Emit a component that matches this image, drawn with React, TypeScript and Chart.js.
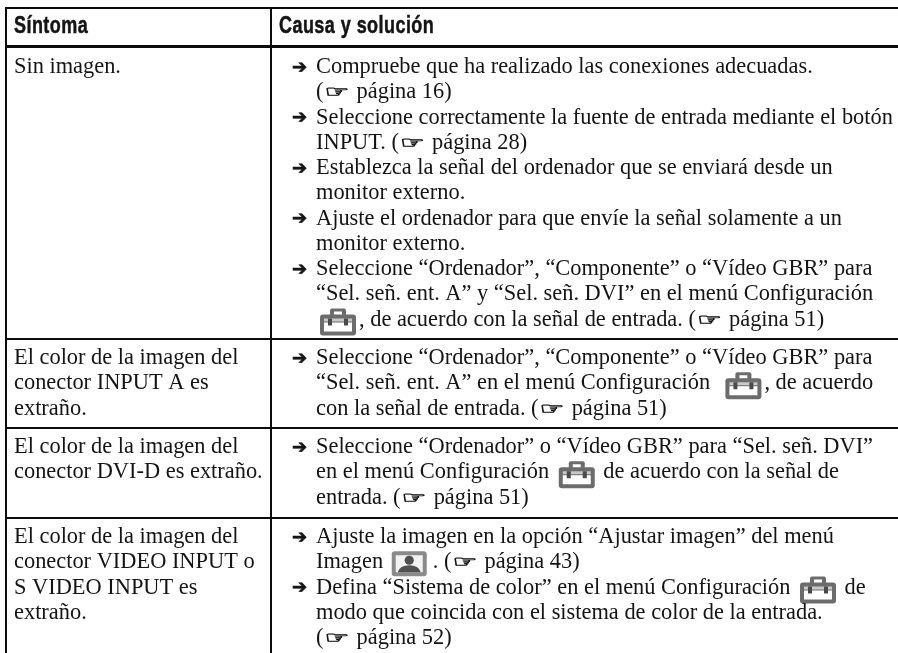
import React, { useEffect, useRef } from "react";
import { Chart, registerables } from "chart.js";

Chart.register(...registerables);

const HEADERS = ["Síntoma", "Causa y solución"];

const SYMPTOMS = [
  ["Sin imagen."],
  ["El color de la imagen del", "conector INPUT A es", "extraño."],
  ["El color de la imagen del", "conector DVI-D es extraño."],
  ["El color de la imagen del", "conector VIDEO INPUT o", "S VIDEO INPUT es", "extraño."],
];

const CAUSES = [
  [
    "➔Compruebe que ha realizado las conexiones adecuadas.",
    "(☞ página 16)",
    "➔Seleccione correctamente la fuente de entrada mediante el botón",
    "INPUT. (☞ página 28)",
    "➔Establezca la señal del ordenador que se enviará desde un",
    "monitor externo.",
    "➔Ajuste el ordenador para que envíe la señal solamente a un",
    "monitor externo.",
    "➔Seleccione “Ordenador”, “Componente” o “Vídeo GBR” para",
    "“Sel. señ. ent. A” y “Sel. señ. DVI” en el menú Configuración",
    "▣, de acuerdo con la señal de entrada. (☞ página 51)",
  ],
  [
    "➔Seleccione “Ordenador”, “Componente” o “Vídeo GBR” para",
    "“Sel. señ. ent. A” en el menú Configuración  ▣, de acuerdo",
    "con la señal de entrada. (☞ página 51)",
  ],
  [
    "➔Seleccione “Ordenador” o “Vídeo GBR” para “Sel. señ. DVI”",
    "en el menú Configuración ▣ de acuerdo con la señal de",
    "entrada. (☞ página 51)",
  ],
  [
    "➔Ajuste la imagen en la opción “Ajustar imagen” del menú",
    "Imagen ▤. (☞ página 43)",
    "➔Defina “Sistema de color” en el menú Configuración ▣ de",
    "modo que coincida con el sistema de color de la entrada.",
    "(☞ página 52)",
  ],
];

const ROW_RULES = [8, 46, 338.5, 427.5, 517.5];
const COLUMN_RULES = [6, 271];
const HEADER_BASELINE = 33;
const ROW_OFFSETS = [27, 25.5, 25.5, 25.5];
const LINE_PITCH = 25.25;
const LEFT_TEXT = 14;
const RIGHT_TEXT = 316;
const ARROW_X = 292;

const INK = "#141414";
const BODY_FONT = '22.4px "Liberation Serif"';

function toolIcon(ctx: CanvasRenderingContext2D, x0: number, base: number) {
  const x = x0 + 4;
  const top = base - 17;
  ctx.save();
  ctx.fillStyle = "#6c6c6c";
  ctx.beginPath();
  ctx.roundRect(x, top + 6, 36, 21, 3);
  ctx.fill();
  ctx.beginPath();
  ctx.roundRect(x + 10, top, 16, 9, 2);
  ctx.fill();
  ctx.fillStyle = "#ffffff";
  ctx.fillRect(x + 14, top + 3, 8, 3);
  ctx.fillRect(x + 4, top + 14, 28, 9);
  ctx.fillStyle = "#c8c8c8";
  ctx.fillRect(x + 4, top + 10, 28, 3);
  ctx.fillStyle = "#4a4a4a";
  ctx.fillRect(x + 8, top + 10, 4, 7);
  ctx.fillRect(x + 24, top + 10, 4, 7);
  ctx.restore();
  return 43;
}

function imageIcon(ctx: CanvasRenderingContext2D, x0: number, base: number) {
  const x = x0 + 3;
  const top = base - 17;
  ctx.save();
  ctx.fillStyle = "#8a8a8a";
  ctx.beginPath();
  ctx.roundRect(x, top, 35, 25, 3);
  ctx.fill();
  ctx.fillStyle = "#f2f2f2";
  ctx.fillRect(x + 4, top + 4, 27, 17);
  ctx.fillStyle = "#4f4f4f";
  ctx.beginPath();
  ctx.arc(x + 17.5, top + 9, 4.6, 0, Math.PI * 2);
  ctx.fill();
  ctx.beginPath();
  ctx.moveTo(x + 6, top + 21);
  ctx.quadraticCurveTo(x + 8, top + 14, x + 17.5, top + 14);
  ctx.quadraticCurveTo(x + 27, top + 14, x + 29, top + 21);
  ctx.fill();
  ctx.restore();
  return 44;
}

function drawHand(ctx: CanvasRenderingContext2D, x: number, y: number) {
  ctx.save();
  ctx.translate(x + 1, y - 1);
  ctx.scale(1.75, 1);
  ctx.font = '16px "DejaVu Sans"';
  ctx.strokeStyle = INK;
  ctx.lineWidth = 0.6;
  ctx.fillText("☞", 0, 0);
  ctx.strokeText("☞", 0, 0);
  ctx.restore();
  return 27.5;
}

function drawLine(ctx: CanvasRenderingContext2D, text: string, x: number, y: number) {
  let cursor = x;
  for (const part of text.split(/([☞▣▤])/)) {
    if (!part) continue;
    if (part === "☞") {
      cursor += drawHand(ctx, cursor, y);
    } else if (part === "▣") {
      cursor += toolIcon(ctx, cursor, y);
    } else if (part === "▤") {
      cursor += imageIcon(ctx, cursor, y);
    } else {
      ctx.fillText(part, cursor, y);
      cursor += ctx.measureText(part).width;
    }
  }
}

function drawHeader(ctx: CanvasRenderingContext2D, text: string, x: number, y: number) {
  ctx.save();
  ctx.translate(x, y);
  ctx.scale(0.75, 1);
  ctx.font = 'bold 24px "Liberation Sans"';
  (ctx as any).letterSpacing = "0.6px";
  ctx.strokeStyle = INK;
  ctx.lineWidth = 0.5;
  ctx.fillText(text, 0, 0);
  ctx.strokeText(text, 0, 0);
  ctx.restore();
}

const textPlugin = {
  id: "tableText",
  afterDatasetsDraw(chart: any) {
    const { ctx, scales } = chart;
    const sx = scales.x;
    const sy = scales.y;
    ctx.save();
    ctx.fillStyle = INK;
    ctx.textBaseline = "alphabetic";
    ctx.textAlign = "left";

    const hy = sy.getPixelForValue(HEADER_BASELINE);
    drawHeader(ctx, HEADERS[0], sx.getPixelForValue(LEFT_TEXT), hy);
    drawHeader(ctx, HEADERS[1], sx.getPixelForValue(COLUMN_RULES[1] + 8), hy);

    ctx.font = BODY_FONT;
    SYMPTOMS.forEach((lines, r) => {
      lines.forEach((line, i) => {
        const y = sy.getPixelForValue(ROW_RULES[r + 1] + ROW_OFFSETS[r] + i * LINE_PITCH);
        drawLine(ctx, line, sx.getPixelForValue(LEFT_TEXT), y);
      });
    });
    CAUSES.forEach((lines, r) => {
      lines.forEach((line, i) => {
        const y = sy.getPixelForValue(ROW_RULES[r + 1] + ROW_OFFSETS[r] + i * LINE_PITCH);
        let body = line;
        if (line.startsWith("➔")) {
          ctx.font = 'bold 18px "DejaVu Sans"';
          ctx.strokeStyle = INK;
          ctx.lineWidth = 0.7;
          const ax = sx.getPixelForValue(ARROW_X);
          ctx.fillText("➔", ax, y - 0.5);
          ctx.strokeText("➔", ax, y - 0.5);
          ctx.font = BODY_FONT;
          body = line.slice(1);
        }
        drawLine(ctx, body, sx.getPixelForValue(RIGHT_TEXT), y);
      });
    });
    ctx.restore();
  },
};

export default function App() {
  const ref = useRef<HTMLCanvasElement>(null);
  useEffect(() => {
    document.body.style.margin = "0";
    document.body.style.overflow = "hidden";
    const chart = new Chart(ref.current as HTMLCanvasElement, {
      type: "scatter",
      data: { datasets: [{ data: [], pointRadius: 0 }] },
      plugins: [textPlugin],
      options: {
        animation: false,
        responsive: false,
        layout: { padding: { left: 5, top: 7, right: 0, bottom: 0 } },
        plugins: { legend: { display: false }, tooltip: { enabled: false }, title: { display: false } },
        scales: {
          x: {
            type: "linear",
            min: 5,
            max: 898,
            afterBuildTicks: (axis: any) => {
              axis.ticks = COLUMN_RULES.map((value) => ({ value }));
            },
            ticks: { display: false },
            border: { display: false },
            grid: {
              color: "#0c0c0c",
              lineWidth: 2,
              drawTicks: false,
            },
          },
          y: {
            type: "linear",
            reverse: true,
            min: 7,
            max: 653,
            afterBuildTicks: (axis: any) => {
              axis.ticks = ROW_RULES.map((value) => ({ value }));
            },
            ticks: { display: false },
            border: { display: false },
            grid: {
              color: "#0c0c0c",
              lineWidth: (c: any) => (c.tick && c.tick.value === ROW_RULES[1] ? 3 : 2),
              drawTicks: false,
            },
          },
        },
      },
    } as any);
    return () => chart.destroy();
  }, []);
  return <canvas ref={ref} width={898} height={653} style={{ display: "block", width: 898, height: 653 }} />;
}
